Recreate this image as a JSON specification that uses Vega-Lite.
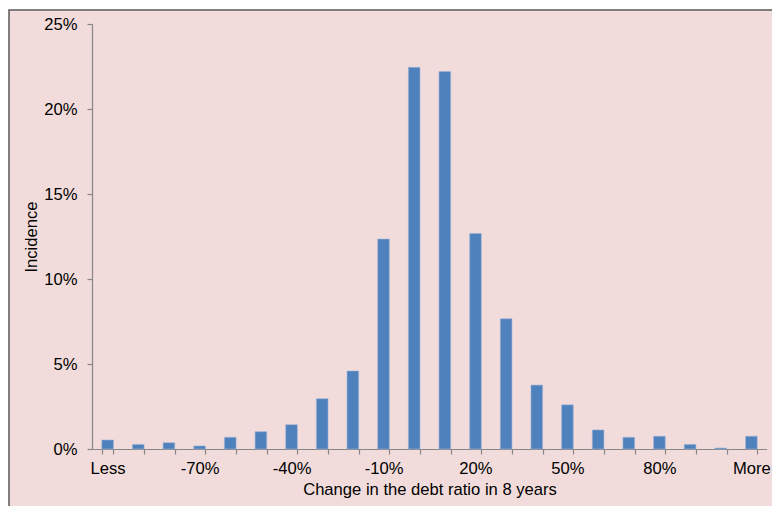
{
  "$schema": "https://vega.github.io/schema/vega-lite/v6.json",
  "autosize": "none",
  "width": 766,
  "height": 499,
  "padding": {"left": 9, "top": 10, "right": -3, "bottom": -3},
  "background": "#FFFFFF",
  "config": {
    "view": {"fill": "#F2DCDB", "stroke": "#595959", "strokeWidth": 1.5},
    "font": "Liberation Sans",
    "axis": {
      "labelFont": "Liberation Sans",
      "titleFont": "Liberation Sans",
      "labelColor": "#000000",
      "titleColor": "#000000",
      "labelFontSize": 16.6,
      "titleFontSize": 16.6,
      "titleFontWeight": "normal",
      "domainColor": "#868686",
      "tickColor": "#868686",
      "domainWidth": 1.2,
      "tickWidth": 1.2,
      "grid": false
    }
  },
  "data": {
    "values": [
      {"bin": "Less", "incidence": 0.0053},
      {"bin": "-90%", "incidence": 0.0027},
      {"bin": "-80%", "incidence": 0.0037},
      {"bin": "-70%", "incidence": 0.0018},
      {"bin": "-60%", "incidence": 0.0069},
      {"bin": "-50%", "incidence": 0.0102},
      {"bin": "-40%", "incidence": 0.0143},
      {"bin": "-30%", "incidence": 0.0296},
      {"bin": "-20%", "incidence": 0.0459},
      {"bin": "-10%", "incidence": 0.1235},
      {"bin": "0%", "incidence": 0.2245},
      {"bin": "10%", "incidence": 0.222},
      {"bin": "20%", "incidence": 0.1268},
      {"bin": "30%", "incidence": 0.0766},
      {"bin": "40%", "incidence": 0.0376},
      {"bin": "50%", "incidence": 0.026},
      {"bin": "60%", "incidence": 0.0112},
      {"bin": "70%", "incidence": 0.0069},
      {"bin": "80%", "incidence": 0.0075},
      {"bin": "90%", "incidence": 0.0027},
      {"bin": "100%", "incidence": 0.0006},
      {"bin": "More", "incidence": 0.0075}
    ]
  },
  "mark": {"type": "bar", "color": "#4F81BD", "stroke": "#9DB4D6", "strokeWidth": 0.6},
  "encoding": {
    "x": {
      "field": "bin",
      "type": "ordinal",
      "sort": null,
      "scale": {"range": [83.3, 757.7], "paddingInner": 0.62, "paddingOuter": 0.31},
      "axis": {
        "title": "Change in the debt ratio in 8 years",
        "offset": -60,
        "labelAngle": 0,
        "tickBand": "extent",
        "tickSize": 5,
        "labelPadding": 6,
        "titlePadding": 5,
        "labelExpr": "indexof(['Less','-70%','-40%','-10%','20%','50%','80%','More'], datum.value) >= 0 ? datum.label : ''"
      }
    },
    "y": {
      "field": "incidence",
      "type": "quantitative",
      "scale": {"domain": [0, 0.25], "range": [439, 14], "nice": false},
      "axis": {
        "title": "Incidence",
        "offset": -83,
        "values": [0, 0.05, 0.1, 0.15, 0.2, 0.25],
        "format": ".0%",
        "tickSize": 5,
        "labelPadding": 10,
        "titlePadding": 4
      }
    }
  }
}
